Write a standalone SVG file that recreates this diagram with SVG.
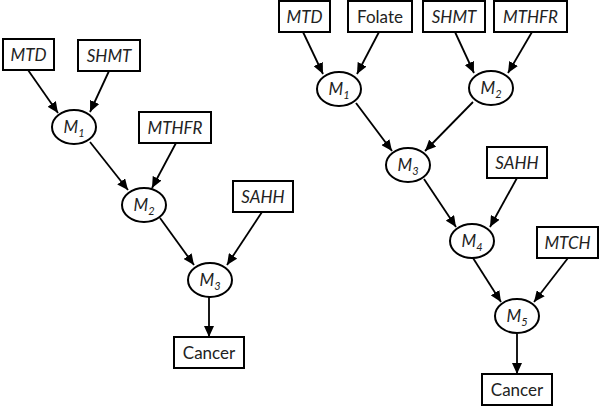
<svg xmlns="http://www.w3.org/2000/svg" width="600" height="407" viewBox="0 0 600 407">
<style>
.box{fill:#fff;stroke:#000;stroke-width:2}
.ell{fill:#fff;stroke:#000;stroke-width:2}
.t{font-family:Lato,"Open Sans","Liberation Sans",sans-serif;font-size:17px;fill:#222;text-anchor:middle}
.i{font-style:italic}
.sub{font-size:11px}
.c line{stroke:#000;stroke-width:1.8;marker-end:url(#ah)}
</style>
<defs>
<marker id="ah" markerUnits="userSpaceOnUse" markerWidth="12" markerHeight="10" refX="11" refY="5" orient="auto">
<path d="M0,0 L11,5 L0,10 Z" fill="#000"/>
</marker>
</defs>
<rect width="600" height="407" fill="#fff"/>
<g class="c" id="connectors">
<line x1="28" y1="70" x2="58" y2="113"/>
<line x1="109" y1="71" x2="90" y2="112"/>
<line x1="90" y1="142" x2="128" y2="190"/>
<line x1="176" y1="143" x2="152" y2="188"/>
<line x1="160" y1="218" x2="194" y2="265"/>
<line x1="262" y1="212" x2="227" y2="265"/>
<line x1="209" y1="297" x2="209" y2="337"/>
<line x1="303" y1="32" x2="323" y2="74"/>
<line x1="379" y1="32" x2="357" y2="74"/>
<line x1="455" y1="32" x2="474" y2="73"/>
<line x1="532" y1="32" x2="508" y2="73"/>
<line x1="356" y1="103" x2="392" y2="151"/>
<line x1="473" y1="102" x2="425" y2="151"/>
<line x1="424" y1="179" x2="456" y2="227"/>
<line x1="517" y1="178" x2="490" y2="227"/>
<line x1="473" y1="258" x2="501" y2="302"/>
<line x1="568" y1="258" x2="534" y2="302"/>
<line x1="517" y1="334" x2="517" y2="374"/>
</g>
<g id="L_MTD"><rect class="box" x="3" y="39" width="51" height="31"/><text class="t i" x="28.5" y="61">MTD</text></g>
<g id="L_SHMT"><rect class="box" x="78" y="40" width="62" height="31"/><text class="t i" x="109" y="62">SHMT</text></g>
<g id="L_MTHFR"><rect class="box" x="139" y="112" width="72" height="31"/><text class="t i" x="175" y="134">MTHFR</text></g>
<g id="L_SAHH"><rect class="box" x="233" y="181" width="60" height="31"/><text class="t i" x="263" y="203">SAHH</text></g>
<g id="L_Cancer"><rect class="box" x="174" y="337" width="70" height="31"/><text class="t" x="209" y="359">Cancer</text></g>
<g id="L_M1"><ellipse class="ell" cx="74" cy="127" rx="22" ry="17"/><text class="t i" x="74" y="133">M<tspan class="sub" dy="4">1</tspan></text></g>
<g id="L_M2"><ellipse class="ell" cx="144" cy="205" rx="22" ry="17"/><text class="t i" x="144" y="211">M<tspan class="sub" dy="4">2</tspan></text></g>
<g id="L_M3"><ellipse class="ell" cx="210" cy="280" rx="22" ry="17"/><text class="t i" x="210" y="286">M<tspan class="sub" dy="4">3</tspan></text></g>
<g id="R_MTD"><rect class="box" x="279" y="1" width="51" height="31"/><text class="t i" x="304.5" y="23">MTD</text></g>
<g id="R_Folate"><rect class="box" x="348" y="1" width="64" height="31"/><text class="t" x="380" y="23">Folate</text></g>
<g id="R_SHMT"><rect class="box" x="423" y="1" width="62" height="31"/><text class="t i" x="454" y="23">SHMT</text></g>
<g id="R_MTHFR"><rect class="box" x="494" y="1" width="73" height="31"/><text class="t i" x="530.5" y="23">MTHFR</text></g>
<g id="R_SAHH"><rect class="box" x="487" y="147" width="60" height="31"/><text class="t i" x="517" y="169">SAHH</text></g>
<g id="R_MTCH"><rect class="box" x="537" y="227" width="61" height="31"/><text class="t i" x="567.5" y="249">MTCH</text></g>
<g id="R_Cancer"><rect class="box" x="482" y="374" width="70" height="31"/><text class="t" x="517" y="396">Cancer</text></g>
<g id="R_M1"><ellipse class="ell" cx="339" cy="89" rx="22" ry="17"/><text class="t i" x="339" y="95">M<tspan class="sub" dy="4">1</tspan></text></g>
<g id="R_M2"><ellipse class="ell" cx="491" cy="88" rx="22" ry="17"/><text class="t i" x="491" y="94">M<tspan class="sub" dy="4">2</tspan></text></g>
<g id="R_M3"><ellipse class="ell" cx="408" cy="165" rx="22" ry="17"/><text class="t i" x="408" y="171">M<tspan class="sub" dy="4">3</tspan></text></g>
<g id="R_M4"><ellipse class="ell" cx="472" cy="241" rx="22" ry="17"/><text class="t i" x="472" y="247">M<tspan class="sub" dy="4">4</tspan></text></g>
<g id="R_M5"><ellipse class="ell" cx="517" cy="316" rx="22" ry="17"/><text class="t i" x="517" y="322">M<tspan class="sub" dy="4">5</tspan></text></g>
</svg>
